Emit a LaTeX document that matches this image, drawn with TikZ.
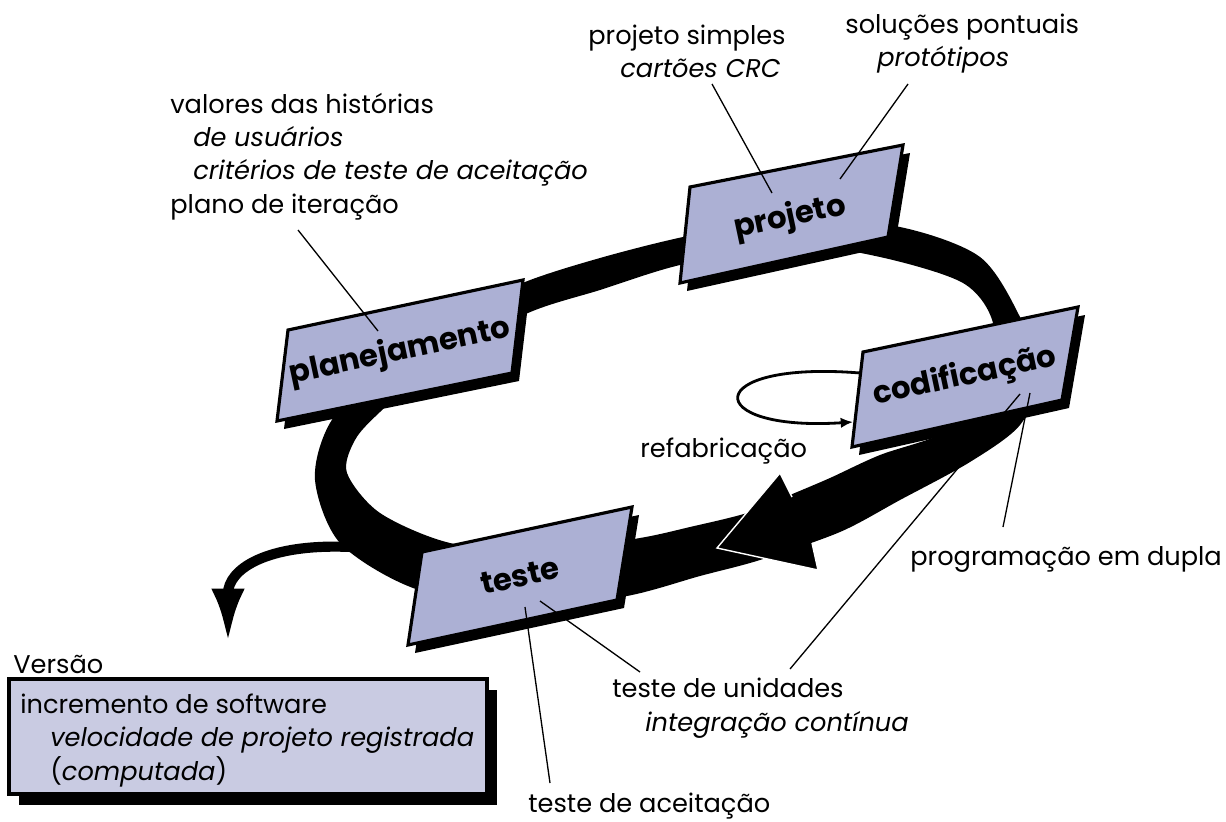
\documentclass[tikz,border=0pt]{standalone}
\usepackage{fontspec}
\setmainfont{Poppins}
\usetikzlibrary{arrows.meta,calc,positioning}

\definecolor{cardblue}{RGB}{172,176,212}
\definecolor{releaseblue}{RGB}{201,203,226}

\tikzset{
    card/.style={draw=black, line width=1.8pt, fill=cardblue, line join=miter},
    cardshade/.style={fill=black},
    cardtext/.style={font=\fontsize{17.5}{20}\selectfont\bfseries, rotate=12, inner sep=0pt},
    note/.style={font=\fontsize{14.6}{18.9}\selectfont, align=left, inner sep=0pt, anchor=base west},
    pointer/.style={line width=0.75pt},
}

\begin{document}
\begin{tikzpicture}[x=0.02cm, y=-0.02cm]
    \useasboundingbox (0,0) rectangle (1226,821);

    % the iteration ring
    \fill[even odd rule]
        plot[smooth cycle] coordinates {(330,423) (380,368) (450,318) (525,282) (600,258) (683,237) (790,217) (900,227) (980,257) (1020,317) (1040,375) (1020,425) (970,462) (900,500) (840,532) (760,560) (700,576) (627,596) (520,610) (413,588) (340,543) (315,480)}
        plot[smooth cycle] coordinates {(380,412) (440,360) (528,313) (600,290) (680,265) (790,245) (880,257) (963,283) (993,323) (990,385) (950,430) (880,455) (830,478) (790,495) (747,513) (690,527) (640,538) (545,552) (450,543) (380,513) (347,473) (355,440)};

    % release branch
    \coordinate (relstart) at (352,547);
    \coordinate (reltip) at (228,643);
    \draw[line width=5.8pt, -{Latex[length=31pt,width=19pt]}] (relstart) .. controls (265,543) and (228,570) .. (reltip);

    % big arrow head
    \filldraw[fill=black, draw=white, line width=0.8pt] (792,497) -- (780,473) -- (717,548) -- (818,570) -- (812,543);

    % cards
    \fill[cardshade, shift={(7,8)}] (288,330) -- (523,280) -- (512,373) -- (277,421) -- cycle;
    \draw[card] (288,330) -- (523,280) -- (512,373) -- (277,421) -- cycle;
    \node[cardtext] (planej) at (400,352) {planejamento};

    \fill[cardshade, shift={(7,8)}] (690,187) -- (903,145) -- (888,237) -- (680,283) -- cycle;
    \draw[card] (690,187) -- (903,145) -- (888,237) -- (680,283) -- cycle;
    \node[cardtext] (proj) at (790,218) {projeto};

    \fill[cardshade, shift={(7,8)}] (863,352) -- (1078,307) -- (1062,400) -- (852,447) -- cycle;
    \draw[card] (863,352) -- (1078,307) -- (1062,400) -- (852,447) -- cycle;
    \node[cardtext] (codif) at (965,377) {codificação};

    \fill[cardshade, shift={(7,8)}] (422,552) -- (632,507) -- (617,600) -- (408,645) -- cycle;
    \draw[card] (422,552) -- (632,507) -- (617,600) -- (408,645) -- cycle;
    \node[cardtext] (teste) at (520,576) {teste};

    % release box
    \fill[cardshade, shift={(10,11)}] (9,679) rectangle (487,794);
    \draw[card, fill=releaseblue] (9,679) rectangle (487,794);

    % notes (base = last line)
    \node[note] (valores) at (170,213) {valores das histórias\\
        \hspace*{0.46cm}\textit{de usuários}\\
        \hspace*{0.46cm}\textit{critérios de teste de aceitação}\\
        plano de iteração};
    \node[note] (simples) at (588,78) {projeto simples\\\hspace*{0.64cm}\textit{cartões CRC}};
    \node[note] (pontuais) at (845,67) {soluções pontuais\\\hspace*{0.64cm}\textit{protótipos}};
    \node[note] (refab) at (640,457) {refabricação};
    \node[note] (dupla) at (910,565) {programação em dupla};
    \node[note] (unidades) at (612,731) {teste de unidades\\\hspace*{0.66cm}\textit{integração contínua}};
    \node[note] (aceitacao) at (528,812) {teste de aceitação};
    \node[note] (versao) at (13,673) {Versão};
    \node[note] (incremento) at (20,780) {incremento de software\\
        \hspace*{0.6cm}\textit{velocidade de projeto registrada}\\
        \hspace*{0.6cm}(\textit{computada})};

    % refactoring loop
    \coordinate (refabout) at (860,373);
    \coordinate (refabin) at (853,422);
    \draw[line width=1.6pt, -{Latex[length=7pt,width=6pt]}] (refabout) .. controls (700,360) and (700,432) .. (refabin);

    % pointers
    \coordinate (p1a) at (298,230); \coordinate (p1b) at (378,331);
    \coordinate (p2a) at (712,84);  \coordinate (p2b) at (772,193);
    \coordinate (p3a) at (908,84);  \coordinate (p3b) at (840,179);
    \coordinate (p4a) at (1020,394); \coordinate (p4b) at (790,669);
    \coordinate (p5a) at (1030,393); \coordinate (p5b) at (1003,527);
    \coordinate (p6a) at (540,601); \coordinate (p6b) at (640,672);
    \coordinate (p7a) at (525,607); \coordinate (p7b) at (550,783);
    \draw[pointer] (p1a) -- (p1b);
    \draw[pointer] (p2a) -- (p2b);
    \draw[pointer] (p3a) -- (p3b);
    \draw[pointer] (p4a) -- (p4b);
    \draw[pointer] (p5a) -- (p5b);
    \draw[pointer] (p6a) -- (p6b);
    \draw[pointer] (p7a) -- (p7b);
\end{tikzpicture}
\end{document}
